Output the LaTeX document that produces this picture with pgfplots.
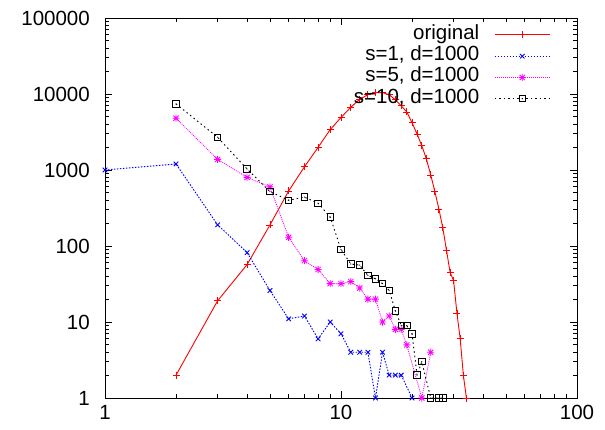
\documentclass[border=0pt]{standalone}
\usepackage{fontspec}
\setmainfont{Liberation Sans}
\usepackage{pgfplots}
\pgfplotsset{compat=1.18}

% eight-armed star (plus and cross together)
\pgfdeclareplotmark{gpstar}{%
  \pgfpathmoveto{\pgfpoint{-\pgfplotmarksize}{0pt}}%
  \pgfpathlineto{\pgfpoint{\pgfplotmarksize}{0pt}}%
  \pgfpathmoveto{\pgfpoint{0pt}{-\pgfplotmarksize}}%
  \pgfpathlineto{\pgfpoint{0pt}{\pgfplotmarksize}}%
  \pgfpathmoveto{\pgfpoint{-0.75\pgfplotmarksize}{-0.75\pgfplotmarksize}}%
  \pgfpathlineto{\pgfpoint{0.75\pgfplotmarksize}{0.75\pgfplotmarksize}}%
  \pgfpathmoveto{\pgfpoint{-0.75\pgfplotmarksize}{0.75\pgfplotmarksize}}%
  \pgfpathlineto{\pgfpoint{0.75\pgfplotmarksize}{-0.75\pgfplotmarksize}}%
  \pgfusepathqstroke}
% open square with a dot in its centre
\pgfdeclareplotmark{gpsquare}{%
  \pgfpathrectangle{\pgfpoint{-\pgfplotmarksize}{-\pgfplotmarksize}}%
    {\pgfpoint{2\pgfplotmarksize}{2\pgfplotmarksize}}%
  \pgfusepathqstroke
  \pgfpathcircle{\pgfpointorigin}{0.6pt}%
  \pgfusepathqfill}

\definecolor{gpred}{RGB}{255,0,0}
\definecolor{gpblue}{RGB}{0,0,255}
\definecolor{gpmagenta}{RGB}{255,0,255}

% gap between a legend label and its sample line
\newcommand{\lgap}{\rule{15pt}{0pt}}

\begin{document}
\begin{tikzpicture}
\useasboundingbox (-105pt,-31pt) rectangle (500pt,398pt);
\begin{axis}[
  at={(0,0)}, anchor=south west,
  scale only axis, width=472pt, height=380pt,
  xmode=log, ymode=log,
  xmin=1, xmax=100, ymin=1, ymax=100000,
  xtick={1,10,100}, xticklabels={1,10,100},
  ytick={1,10,100,1000,10000,100000},
  yticklabels={1,10,100,1000,10000,100000},
  tick align=inside,
  major tick length=7pt, minor tick length=4pt,
  axis line style={line width=0.9pt},
  every tick/.style={black, line width=0.8pt},
  tick label style={font=\fontsize{20.5}{24}\selectfont, inner sep=0pt},
  xticklabel shift=7pt,
  yticklabel shift=15pt,
  legend plot pos=right,
  legend cell align=right,
  legend style={draw=none, fill=none,
    at={(0.950,0.9895)}, anchor=north east,
    font=\fontsize{20.5}{24}\selectfont,
    nodes={inner sep=0pt, text height=15pt, text depth=6.3pt},
    row sep=0pt, column sep=0pt},
  legend image code/.code={%
    \draw[mark repeat=2, mark phase=2] plot coordinates {(0pt,0pt) (27.5pt,0pt) (55pt,0pt)};},
]

\addplot[gpred, line width=0.9pt, mark=+, mark size=3.5pt, mark options={solid}]
coordinates {
(2,2) (3,19) (4,57) (5,189) (6,530) (7,1100) (8,1990) (9,3400) (10,4900)
(11,6700) (12,8500) (13,9800) (14,10400) (15,10400) (16,9800) (17,8400)
(18,7000) (19,5800) (20,4200) (21,2980) (22,2090) (23,1400) (24,860)
(25,518) (26,304) (27,174) (28,87) (29,45) (30,35) (31,13) (32,6) (33,2) (34,1)
};
\addlegendentry{original\lgap}

\addplot[gpblue, line width=0.9pt, dash pattern=on 1.5pt off 1.5pt,
  mark=x, mark size=3.2pt, mark options={solid}]
coordinates {
(1,1000) (2,1200) (3,190) (4,82) (5,26) (6,11) (7,12) (8,6) (9,10) (10,7)
(11,4) (12,4) (13,4) (14,1) (15,4) (16,2) (17,2) (18,2) (20,1)
};
\addlegendentry{s=1, d=1000\lgap}

\addplot[gpmagenta, line width=0.8pt, dash pattern=on 1pt off 1pt,
  mark=gpstar, mark size=3.5pt, mark options={solid}]
coordinates {
(2,4800) (3,1380) (4,800) (5,600) (6,130) (7,64) (8,49) (9,32) (10,32)
(11,34) (12,28) (13,20) (14,20) (15,10) (16,12) (17,8) (18,8) (19,5)
(22,1) (24,4)
};
\addlegendentry{s=5, d=1000\lgap}

\addplot[black, line width=0.9pt, dash pattern=on 1.5pt off 3pt,
  mark=gpsquare, mark size=3.2pt, mark options={solid}]
coordinates {
(2,7400) (3,2700) (4,1030) (5,520) (6,400) (7,440) (8,365) (9,240) (10,90)
(11,58) (12,56) (13,41) (14,37) (15,32) (16,26) (17,14) (18,9) (19,9)
(20,7) (21,2) (22,3) (24,1) (26,1) (27,1)
};
\addlegendentry{s=10, d=1000\lgap}

\end{axis}
\end{tikzpicture}
\end{document}
